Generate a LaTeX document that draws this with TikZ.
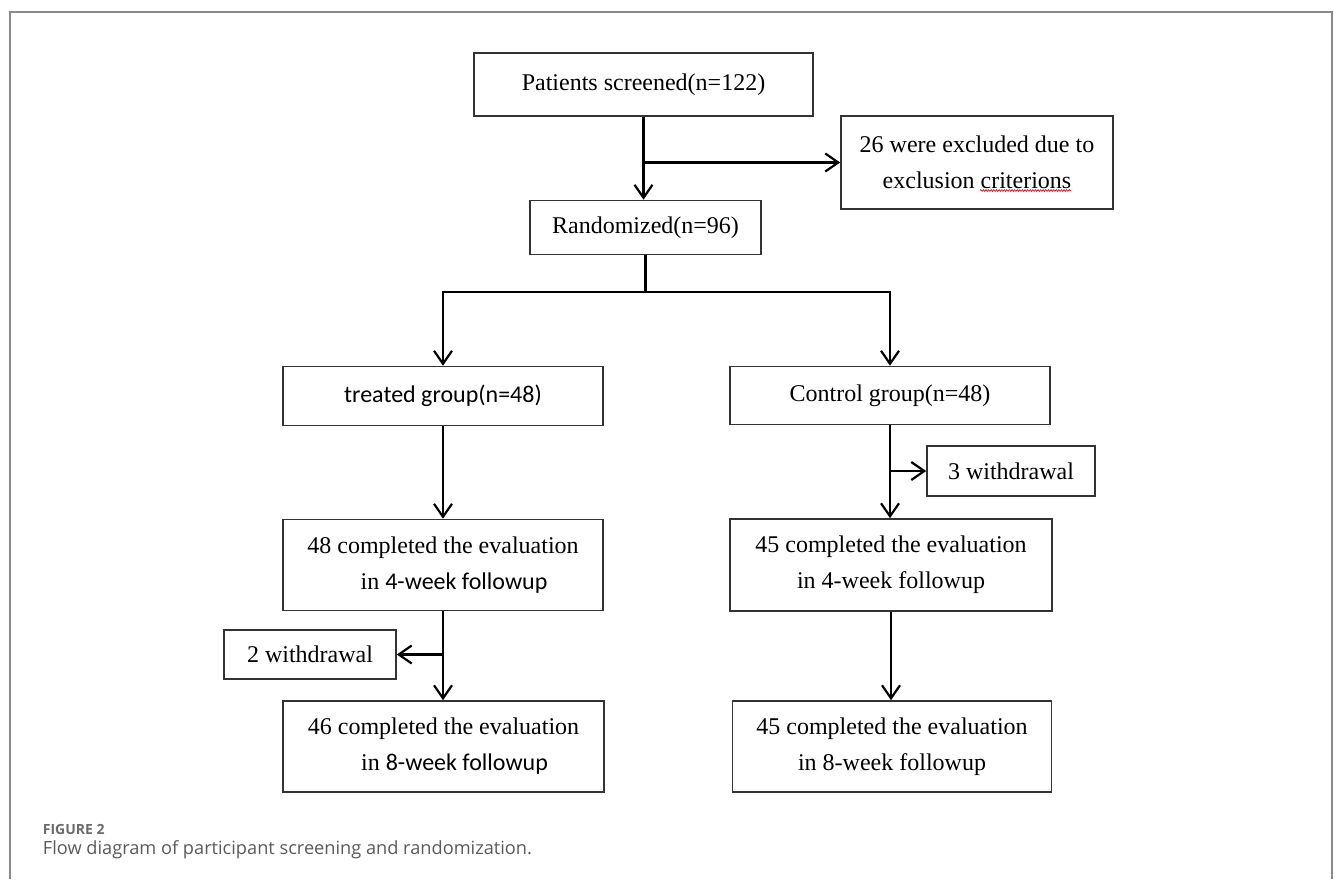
\documentclass[tikz,border=0pt]{standalone}
\usepackage{fontspec}
\setmainfont{Liberation Serif}
\newfontfamily\calfont{Carlito}
\newfontfamily\capfont{Open Sans}
\usetikzlibrary{arrows.meta,decorations.pathmorphing}
\definecolor{framegray}{HTML}{8A8A8A}
\definecolor{capgray}{HTML}{5A5A5A}
\definecolor{boxline}{HTML}{333333}
\begin{document}
\begin{tikzpicture}[x=1pt,y=-1pt,
  box/.style={draw=boxline, line width=1.6pt, inner sep=0pt, align=center,
    font=\fontsize{24}{36}\selectfont},
  conn/.style={draw=black, line width=2.2pt},
  arr/.style={conn, -{Straight Barb[length=13pt,width=18pt,line width=2.2pt]}},
  captitle/.style={anchor=base west, inner sep=0pt, text=capgray!90, font=\capfont\bfseries\fontsize{14}{17}\selectfont},
  captext/.style={anchor=base west, inner sep=0pt, text=capgray, font=\capfont\fontsize{18.2}{22}\selectfont}
]
\useasboundingbox (0,0) rectangle (1335,879);
% outer frame (open at bottom)
\draw[framegray, line width=1.5pt] (10,879) -- (10,12) -- (1332,12) -- (1332,879);

% boxes
\node[box, minimum width=339pt, minimum height=63pt] (pat) at (643.5,84.5) {Patients screened(n=122)};
\node[box, minimum width=272pt, minimum height=93pt] (excl) at (977,162.5) {26 were excluded due to\\exclusion criterions};
\node[box, minimum width=231pt, minimum height=54pt] (rand) at (645.5,227.5) {Randomized(n=96)};
\node[box, minimum width=320pt, minimum height=59pt] (treat) at (443,396) {\calfont treated group(n=48)};
\node[box, minimum width=320pt, minimum height=58pt] (ctrl) at (890,395.5) {Control group(n=48)};
\node[box, minimum width=168pt, minimum height=50pt] (w3) at (1011,471) {3 withdrawal};
\node[box, minimum width=320pt, minimum height=91pt] (t4) at (443,565) {48 completed the evaluation\\\hspace*{22pt}in {\calfont 4-week followup}};
\node[box, minimum width=322pt, minimum height=92pt] (c4) at (891,565) {45 completed the evaluation\\in 4-week followup};
\node[box, minimum width=172pt, minimum height=49pt] (w2) at (310,654.5) {2 withdrawal};
\node[box, minimum width=321pt, minimum height=91pt] (t8) at (443.5,746.5) {46 completed the evaluation\\\hspace*{22pt}in {\calfont 8-week followup}};
\node[box, minimum width=319pt, minimum height=91pt] (c8) at (892,746.5) {45 completed the evaluation\\in 8-week followup};

% spell-check underline
\draw[red!80!black, line width=0.6pt, decorate, decoration={snake, amplitude=0.9pt, segment length=2.6pt}] (980,190.5) -- (1071,190.5);

% connectors
\draw[arr] (pat.south) -- (pat.south |- rand.north);
\coordinate (b1) at (pat.south |- excl.west);
\draw[arr] (b1) -- (excl.west);

\coordinate (split) at (646,292);
\coordinate (sl) at (treat.north |- split);
\coordinate (sr) at (ctrl.north |- split);
\draw[conn] (rand.south) -- (rand.south |- split);
\draw[conn, line cap=rect] (sl) -- (sr);
\draw[arr] (sl) -- (treat.north);
\draw[arr] (sr) -- (ctrl.north);

\draw[arr] (treat.south) -- (treat.south |- t4.north);
\draw[arr] (ctrl.south) -- (ctrl.south |- c4.north);
\coordinate (b3) at (ctrl.south |- w3.west);
\draw[arr] (b3) -- (w3.west);

\draw[arr] (t4.south) -- (t4.south |- t8.north);
\coordinate (b2) at (t4.south |- w2.east);
\draw[arr] (b2) -- (w2.east);

\draw[arr] (c4.south) -- (c4.south |- c8.north);

% caption
\node[captitle] (figlbl) at (42.7,834.3) {FIGURE 2};
\node[captext] (figcap) at (42.7,854) {Flow diagram of participant screening and randomization.};
\end{tikzpicture}
\end{document}
